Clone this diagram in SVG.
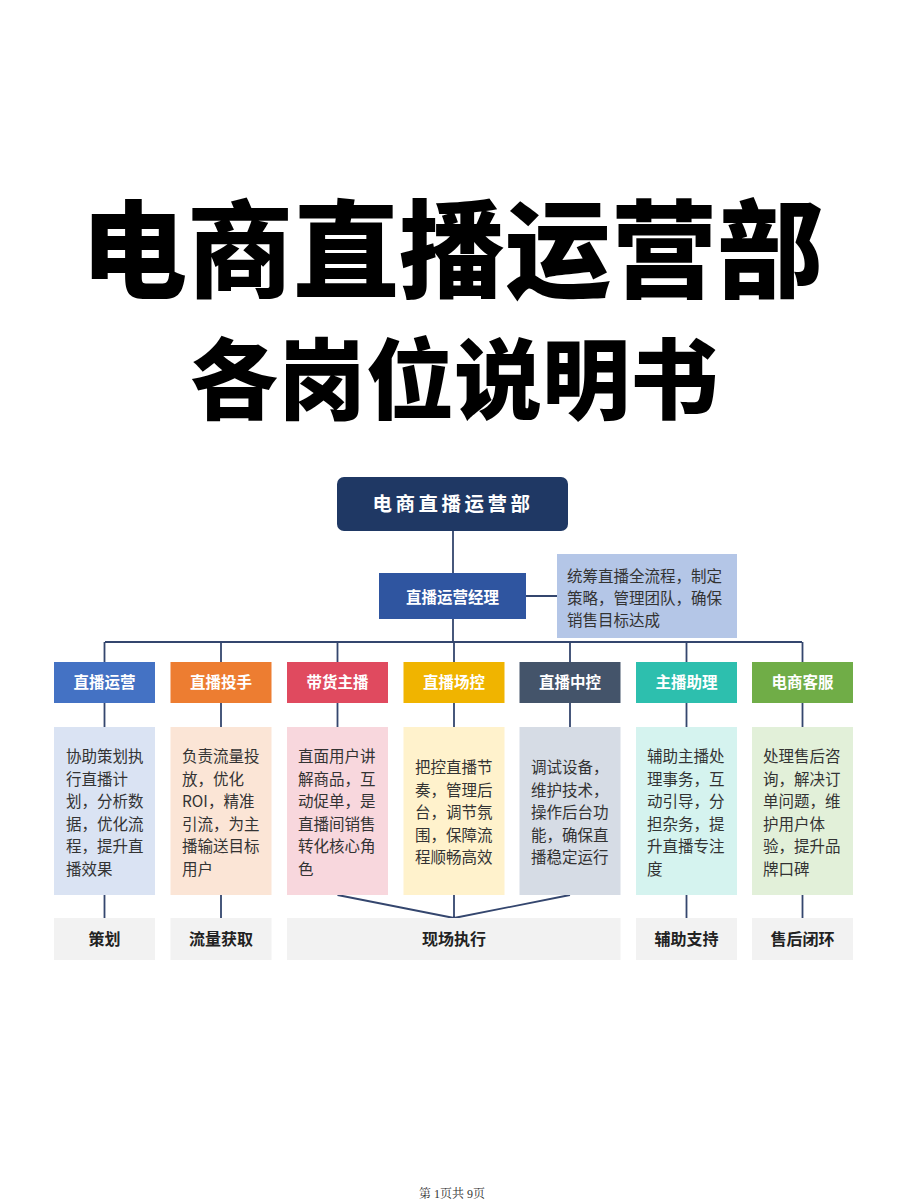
<svg xmlns="http://www.w3.org/2000/svg" width="900" height="1200" viewBox="0 0 900 1200">
<style>
text{font-family:"Noto Sans CJK SC","Noto Sans",sans-serif}
.t1{font-size:106px;font-weight:900;fill:#000;text-anchor:middle}
.t2{font-size:88px;font-weight:900;fill:#000;text-anchor:middle}
.hd{font-size:15.5px;font-weight:700;fill:#fff;text-anchor:middle}
.ds{font-size:15.5px;fill:#333}
.bt{font-size:16px;font-weight:700;fill:#222;text-anchor:middle}
.ln{stroke:#34466e;stroke-width:1.8;fill:none}
.bb{fill:#f2f2f2}
</style>
<rect width="900" height="1200" fill="#fff"/>
<g id="title">
<text class="t1" x="452" y="289">电商直播运营部</text>
<text class="t2" x="454" y="412">各岗位说明书</text>
</g>
<g id="connectors">
<path class="ln" d="M453 531V573M453 619V642M526 596H557M105 642H802"/>
<path class="ln" d="M104.5 642V662M221 642V662M337.5 642V662M454 642V662M570 642V662M686.5 642V662M802.5 642V662"/>
<path class="ln" d="M104.5 703V727M221 703V727M337.5 703V727M454 703V727M570 703V727M686.5 703V727M802.5 703V727"/>
<path class="ln" d="M104.5 895V918M221 895V918M686.5 895V918M802.5 895V918M337.5 895L454 918M454 895V918M570 895L454 918"/>
</g>
<g id="dept">
<rect x="337" y="477" width="231" height="54" rx="7" fill="#1f3864"/>
<text x="453" y="511" font-size="19.5" font-weight="700" fill="#fff" text-anchor="middle" letter-spacing="3.5">电商直播运营部</text>
</g>
<g id="manager">
<rect x="379" y="573" width="147" height="46" fill="#2f55a0"/>
<text class="hd" x="452.5" y="603" font-size="17">直播运营经理</text>
</g>
<g id="manager-desc">
<rect x="557" y="554" width="180" height="84" fill="#b4c6e7"/>
<text class="ds" x="567" y="582">统筹直播全流程，制定</text>
<text class="ds" x="567" y="604">策略，管理团队，确保</text>
<text class="ds" x="567" y="626">销售目标达成</text>
</g>
<g id="role1">
<rect x="54" y="662" width="101" height="41" fill="#4472c4"/>
<text class="hd" x="104.5" y="688">直播运营</text>
<rect x="54" y="727" width="101" height="168" fill="#dae3f3"/>
<text class="ds" x="66"><tspan x="66" y="762">协助策划执</tspan><tspan x="66" y="784.5">行直播计</tspan><tspan x="66" y="807">划，分析数</tspan><tspan x="66" y="829.5">据，优化流</tspan><tspan x="66" y="852">程，提升直</tspan><tspan x="66" y="874.5">播效果</tspan></text>
</g>
<g id="role2">
<rect x="170.5" y="662" width="101" height="41" fill="#ed7d31"/>
<text class="hd" x="221" y="688">直播投手</text>
<rect x="170.5" y="727" width="101" height="168" fill="#fbe5d6"/>
<text class="ds"><tspan x="182" y="762">负责流量投</tspan><tspan x="182" y="784.5">放，优化</tspan><tspan x="182" y="807">ROI，精准</tspan><tspan x="182" y="829.5">引流，为主</tspan><tspan x="182" y="852">播输送目标</tspan><tspan x="182" y="874.5">用户</tspan></text>
</g>
<g id="role3">
<rect x="287" y="662" width="101" height="41" fill="#e04a5f"/>
<text class="hd" x="337.5" y="688">带货主播</text>
<rect x="287" y="727" width="101" height="168" fill="#f8d7dd"/>
<text class="ds"><tspan x="298" y="762">直面用户讲</tspan><tspan x="298" y="784.5">解商品，互</tspan><tspan x="298" y="807">动促单，是</tspan><tspan x="298" y="829.5">直播间销售</tspan><tspan x="298" y="852">转化核心角</tspan><tspan x="298" y="874.5">色</tspan></text>
</g>
<g id="role4">
<rect x="403.5" y="662" width="101" height="41" fill="#f0b400"/>
<text class="hd" x="454" y="688">直播场控</text>
<rect x="403.5" y="727" width="101" height="168" fill="#fff2cc"/>
<text class="ds"><tspan x="415" y="773">把控直播节</tspan><tspan x="415" y="795.5">奏，管理后</tspan><tspan x="415" y="818">台，调节氛</tspan><tspan x="415" y="840.5">围，保障流</tspan><tspan x="415" y="863">程顺畅高效</tspan></text>
</g>
<g id="role5">
<rect x="519.5" y="662" width="101" height="41" fill="#44546a"/>
<text class="hd" x="570" y="688">直播中控</text>
<rect x="519.5" y="727" width="101" height="168" fill="#d6dce5"/>
<text class="ds"><tspan x="531" y="773">调试设备，</tspan><tspan x="531" y="795.5">维护技术，</tspan><tspan x="531" y="818">操作后台功</tspan><tspan x="531" y="840.5">能，确保直</tspan><tspan x="531" y="863">播稳定运行</tspan></text>
</g>
<g id="role6">
<rect x="636" y="662" width="101" height="41" fill="#2dbfae"/>
<text class="hd" x="686.5" y="688">主播助理</text>
<rect x="636" y="727" width="101" height="168" fill="#d5f3ef"/>
<text class="ds"><tspan x="647" y="762">辅助主播处</tspan><tspan x="647" y="784.5">理事务，互</tspan><tspan x="647" y="807">动引导，分</tspan><tspan x="647" y="829.5">担杂务，提</tspan><tspan x="647" y="852">升直播专注</tspan><tspan x="647" y="874.5">度</tspan></text>
</g>
<g id="role7">
<rect x="752" y="662" width="101" height="41" fill="#70ad47"/>
<text class="hd" x="802.5" y="688">电商客服</text>
<rect x="752" y="727" width="101" height="168" fill="#e2f0d9"/>
<text class="ds"><tspan x="763" y="762">处理售后咨</tspan><tspan x="763" y="784.5">询，解决订</tspan><tspan x="763" y="807">单问题，维</tspan><tspan x="763" y="829.5">护用户体</tspan><tspan x="763" y="852">验，提升品</tspan><tspan x="763" y="874.5">牌口碑</tspan></text>
</g>
<g id="stage1"><rect class="bb" x="54" y="918" width="101" height="42"/><text class="bt" x="104.5" y="945">策划</text></g>
<g id="stage2"><rect class="bb" x="170.5" y="918" width="101" height="42"/><text class="bt" x="221" y="945">流量获取</text></g>
<g id="stage3"><rect class="bb" x="287" y="918" width="333.5" height="42"/><text class="bt" x="454" y="945">现场执行</text></g>
<g id="stage4"><rect class="bb" x="636" y="918" width="101" height="42"/><text class="bt" x="686.5" y="945">辅助支持</text></g>
<g id="stage5"><rect class="bb" x="752" y="918" width="101" height="42"/><text class="bt" x="802.5" y="945">售后闭环</text></g>
<g id="footer"><text x="452" y="1198" font-size="12" fill="#333" text-anchor="middle" style="font-family:'Liberation Serif','Noto Serif CJK SC','Noto Sans CJK SC',serif">第 1页共 9页</text></g>
</svg>
